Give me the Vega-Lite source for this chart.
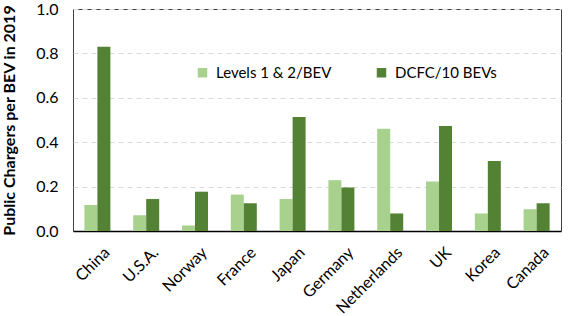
{
  "$schema": "https://vega.github.io/schema/vega-lite/v6.json",
  "width": 488,
  "height": 222,
  "autosize": "none",
  "padding": {"left": 73, "top": 9, "right": 14, "bottom": 85},
  "background": "white",
  "config": {
    "font": "Lato",
    "view": {"stroke": "#404040", "strokeWidth": 1}
  },
  "data": {
    "values": [
      {"country": "China", "series": "Levels 1 & 2/BEV", "value": 0.117},
      {"country": "China", "series": "DCFC/10 BEVs", "value": 0.83},
      {"country": "U.S.A.", "series": "Levels 1 & 2/BEV", "value": 0.071},
      {"country": "U.S.A.", "series": "DCFC/10 BEVs", "value": 0.144},
      {"country": "Norway", "series": "Levels 1 & 2/BEV", "value": 0.025},
      {"country": "Norway", "series": "DCFC/10 BEVs", "value": 0.177},
      {"country": "France", "series": "Levels 1 & 2/BEV", "value": 0.164},
      {"country": "France", "series": "DCFC/10 BEVs", "value": 0.125},
      {"country": "Japan", "series": "Levels 1 & 2/BEV", "value": 0.144},
      {"country": "Japan", "series": "DCFC/10 BEVs", "value": 0.513},
      {"country": "Germany", "series": "Levels 1 & 2/BEV", "value": 0.229},
      {"country": "Germany", "series": "DCFC/10 BEVs", "value": 0.196},
      {"country": "Netherlands", "series": "Levels 1 & 2/BEV", "value": 0.461},
      {"country": "Netherlands", "series": "DCFC/10 BEVs", "value": 0.079},
      {"country": "UK", "series": "Levels 1 & 2/BEV", "value": 0.223},
      {"country": "UK", "series": "DCFC/10 BEVs", "value": 0.473},
      {"country": "Korea", "series": "Levels 1 & 2/BEV", "value": 0.079},
      {"country": "Korea", "series": "DCFC/10 BEVs", "value": 0.315},
      {"country": "Canada", "series": "Levels 1 & 2/BEV", "value": 0.098},
      {"country": "Canada", "series": "DCFC/10 BEVs", "value": 0.125}
    ]
  },
  "mark": {"type": "bar"},
  "encoding": {
    "x": {
      "field": "country",
      "type": "nominal",
      "sort": null,
      "scale": {"paddingInner": 0.467, "paddingOuter": 0.233},
      "axis": {
        "title": null,
        "labelAngle": -45,
        "labelAlign": "right",
        "labelBaseline": "top",
        "labelFontSize": 16,
        "labelColor": "black",
        "labelPadding": 13,
        "labelOffset": 4,
        "ticks": false,
        "domainColor": "black",
        "domainWidth": 1.5
      }
    },
    "xOffset": {"field": "series", "type": "nominal", "sort": ["Levels 1 & 2/BEV", "DCFC/10 BEVs"]},
    "y": {
      "field": "value",
      "type": "quantitative",
      "scale": {"domain": [0, 1], "nice": false},
      "axis": {
        "title": "Public Chargers per BEV in 2019",
        "titleFontSize": 16,
        "titleFontWeight": "bold",
        "titleColor": "black",
        "titlePadding": 18,
        "values": [0, 0.2, 0.4, 0.6, 0.8, 1.0],
        "format": ".1f",
        "labelFontSize": 16,
        "labelColor": "black",
        "labelPadding": 15,
        "ticks": false,
        "domain": false,
        "gridColor": "#d9d9d9",
        "gridDash": [5, 4],
        "gridWidth": 1
      }
    },
    "color": {
      "field": "series",
      "type": "nominal",
      "sort": ["Levels 1 & 2/BEV", "DCFC/10 BEVs"],
      "scale": {"domain": ["Levels 1 & 2/BEV", "DCFC/10 BEVs"], "range": ["#a9d18e", "#548235"]},
      "legend": {
        "title": null,
        "orient": "none",
        "direction": "horizontal",
        "legendX": 122,
        "legendY": 56,
        "symbolType": "square",
        "symbolSize": 90,
        "symbolStrokeWidth": 0,
        "labelFontSize": 15,
        "labelColor": "black",
        "columnPadding": 42,
        "labelOffset": 6
      }
    }
  }
}
